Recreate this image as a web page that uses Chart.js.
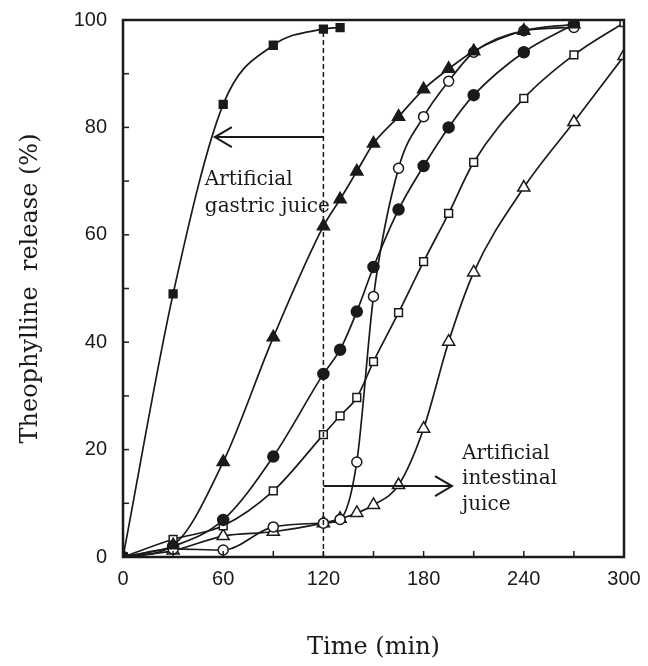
<!DOCTYPE html>
<html>
<head>
<meta charset="utf-8">
<script src="https://cdn.jsdelivr.net/npm/chart.js@4"></script>
<style>
  html, body { margin: 0; padding: 0; background: #fff; }
  #wrap { width: 648px; height: 666px; }
</style>
</head>
<body>
<div id="wrap"><canvas id="releaseChart" width="648" height="666"></canvas></div>
<script>
// time points (min) and release (%) per formulation
const tShort = [0, 30, 60, 90, 120, 130];
const filledSquare = [0, 49, 84.3, 95.3, 98.3, 98.6];

const tMid = [0, 30, 60, 90, 120, 130, 140, 150, 165, 180, 195, 210, 240, 270];
const filledTriangle = [0, 2.2, 17.7, 40.9, 61.6, 66.6, 71.8, 77, 82, 87.1, 90.9, 94.2, 98, 99.2];
const filledCircle = [0, 2, 6.9, 18.7, 34.1, 38.6, 45.7, 54, 64.7, 72.8, 80, 86, 94, 99.2];
const openCircle = [0, 1.5, 1.3, 5.6, 6.3, 7, 17.7, 48.5, 72.4, 82, 88.6, 94, 98, 98.6];

const tLong = [0, 30, 60, 90, 120, 130, 140, 150, 165, 180, 195, 210, 240, 270, 300];
const openSquare = [0, 3.3, 5.8, 12.3, 22.8, 26.3, 29.7, 36.4, 45.5, 55, 64, 73.5, 85.4, 93.5, 99.5];
const openTriangle = [0, 1.2, 3.9, 4.7, 6.3, 7.1, 8.2, 9.7, 13.4, 23.9, 40.1, 53, 68.8, 81, 93.3];

const xTicks = [0, 60, 120, 180, 240, 300];
const yTicks = [0, 20, 40, 60, 80, 100];

// switch line at 120 min and the two arrows
const switchTime = 120;
const switchTop = 98.3;
const gastricArrow = { from: 120, to: 55, y: 78.2 };
const intestinalArrow = { from: 120, to: 197, y: 13.2 };
const gastricLabel = { x: 49, y: [70.3, 65.3], lines: ["Artificial", "gastric juice"] };
const intestinalLabel = { x: 203, y: [19.3, 14.5, 9.7], lines: ["Artificial", "intestinal", "juice"] };

const ink = "#1a1a1a";
const pairs = (xs, ys) => xs.map((x, i) => ({ x: x, y: ys[i] }));

function series(xs, ys, style, filled, radius) {
  return {
    data: pairs(xs, ys),
    borderColor: ink,
    borderWidth: 1.7,
    pointStyle: style,
    pointRadius: radius,
    pointBorderWidth: 1.5,
    pointBorderColor: ink,
    pointBackgroundColor: filled ? ink : "#fff",
    cubicInterpolationMode: "monotone",
    fill: false,
  };
}

const framePlugin = {
  id: "frame",
  afterDatasetsDraw(chart) {
    const { ctx, chartArea: a, scales: { x, y } } = chart;
    ctx.save();
    ctx.strokeStyle = ink;
    ctx.lineWidth = 2.5;
    ctx.strokeRect(a.left, a.top, a.right - a.left, a.bottom - a.top);

    // inward ticks
    ctx.lineWidth = 1.5;
    for (let t = 30; t < 300; t += 30) {
      const px = x.getPixelForValue(t);
      ctx.beginPath(); ctx.moveTo(px, a.bottom); ctx.lineTo(px, a.bottom - 6); ctx.stroke();
    }
    for (let v = 10; v < 100; v += 10) {
      const py = y.getPixelForValue(v);
      ctx.beginPath(); ctx.moveTo(a.left, py); ctx.lineTo(a.left + 6, py); ctx.stroke();
    }

    // arrows
    ctx.lineWidth = 2;
    [gastricArrow, intestinalArrow].forEach(ar => {
      const x0 = x.getPixelForValue(ar.from), x1 = x.getPixelForValue(ar.to);
      const py = y.getPixelForValue(ar.y);
      const dir = x1 > x0 ? 1 : -1;
      ctx.beginPath(); ctx.moveTo(x0, py); ctx.lineTo(x1, py); ctx.stroke();
      ctx.beginPath();
      ctx.moveTo(x1 - dir * 17, py - 10);
      ctx.lineTo(x1, py);
      ctx.lineTo(x1 - dir * 17, py + 10);
      ctx.stroke();
    });

    // labels
    ctx.fillStyle = ink;
    ctx.font = "20px 'DejaVu Serif'";
    ctx.textAlign = "left";
    ctx.textBaseline = "middle";
    [gastricLabel, intestinalLabel].forEach(lb => {
      lb.lines.forEach((s, i) => {
        ctx.fillText(s, x.getPixelForValue(lb.x), y.getPixelForValue(lb.y[i]));
      });
    });
    ctx.restore();
  },
};

new Chart(document.getElementById("releaseChart"), {
  type: "line",
  data: {
    datasets: [
      {
        data: pairs([switchTime, switchTime], [0, switchTop]),
        borderColor: ink,
        borderWidth: 1.5,
        borderDash: [5, 3],
        pointRadius: 0,
        fill: false,
      },
      series(tShort, filledSquare, "rect", true, 5.5),
      series(tMid, filledTriangle, "triangle", true, 7),
      series(tMid, openCircle, "circle", false, 5),
      series(tMid, filledCircle, "circle", true, 5.5),
      series(tLong, openSquare, "rect", false, 5.5),
      series(tLong, openTriangle, "triangle", false, 7),
    ],
  },
  options: {
    responsive: false,
    animation: false,
    events: [],
    layout: { padding: { top: 16, right: 24, left: 0, bottom: 0 } },
    plugins: {
      legend: { display: false },
      tooltip: { enabled: false },
    },
    scales: {
      x: {
        type: "linear",
        min: 0,
        max: 300,
        afterBuildTicks: s => { s.ticks = xTicks.map(v => ({ value: v })); },
        afterFit: s => { s.height = 109; },
        ticks: {
          color: ink,
          font: { family: "'Liberation Sans'", size: 20 },
          padding: 2,
          maxRotation: 0,
        },
        grid: { display: false },
        border: { display: false },
        title: {
          display: true,
          text: "Time (min)",
          color: ink,
          font: { family: "'DejaVu Serif'", size: 24 },
          padding: { top: 32 },
        },
      },
      y: {
        min: 0,
        max: 100,
        afterBuildTicks: s => { s.ticks = yTicks.map(v => ({ value: v })); },
        afterFit: s => { s.width = 123; },
        ticks: {
          color: ink,
          font: { family: "'Liberation Sans'", size: 20 },
          padding: 8,
        },
        grid: { display: false },
        border: { display: false },
        title: {
          display: true,
          text: "Theophylline  release (%)",
          color: ink,
          font: { family: "'DejaVu Serif'", size: 24 },
          padding: { top: 16, bottom: 4 },
        },
      },
    },
  },
  plugins: [framePlugin],
});
</script>
</body>
</html>
